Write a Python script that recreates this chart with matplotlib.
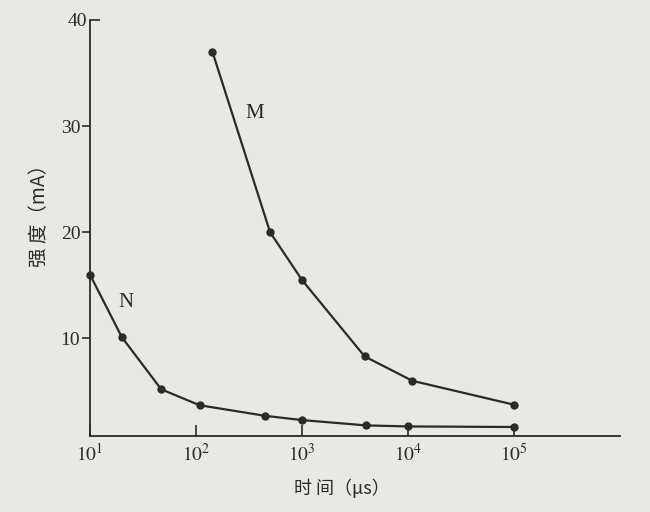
import matplotlib
matplotlib.use("Agg")
import matplotlib.pyplot as plt
from matplotlib.ticker import FixedLocator, FixedFormatter

# ── data ────────────────────────────────────────────────────────────────────
n_time = [10, 20, 47, 108, 450, 1000, 4000, 10000, 100000]   # µs
n_amp  = [16.0, 10.1, 5.2, 3.7, 2.7, 2.3, 1.8, 1.7, 1.65]    # mA

m_time = [143, 500, 1000, 3900, 11000, 100000]
m_amp  = [37.0, 20.0, 15.5, 8.3, 6.0, 3.75]

x_ticks  = [1e2, 1e3, 1e4, 1e5]
x_labels = [r"$10^{2}$", r"$10^{3}$", r"$10^{4}$", r"$10^{5}$"]
y_ticks  = [10, 20, 30]

ink = "#2a2a2a"
paper = "#e8e8e4"

plt.rcParams["font.family"] = ["Liberation Serif", "Noto Sans CJK SC", "DejaVu Sans"]
plt.rcParams["mathtext.fontset"] = "stix"

fig = plt.figure(figsize=(6.5, 5.12), dpi=100, facecolor=paper)
ax = fig.add_axes([90 / 650, 76 / 512, 530 / 650, 416 / 512])
ax.set_facecolor(paper)

ax.plot(n_time, n_amp, "-o", color=ink, lw=1.6, ms=5, clip_on=False)
ax.plot(m_time, m_amp, "-o", color=ink, lw=1.6, ms=5, clip_on=False)

ax.text(355, 31.2, "M", fontsize=15, color=ink, ha="center", va="center")
ax.text(22, 13.4, "N", fontsize=15, color=ink, ha="center", va="center")

ax.set_xscale("log")
ax.set_xlim(10, 1e6)
ax.set_ylim(0.8, 40)

for s in ("top", "right"):
    ax.spines[s].set_visible(False)
for s in ("left", "bottom"):
    ax.spines[s].set_color(ink)
    ax.spines[s].set_linewidth(1.3)

# x: inward ticks at the decades, 10^1 label sits at the corner
ax.xaxis.set_major_locator(FixedLocator([10] + x_ticks))
ax.xaxis.set_major_formatter(FixedFormatter([r"$10^{1}$"] + x_labels))
ax.xaxis.set_minor_locator(FixedLocator([]))
ax.tick_params(axis="x", which="major", direction="in", length=8, width=1.2,
               color=ink, labelcolor=ink, labelsize=14, pad=5)

# y: outward ticks, the top one points inward
ax.yaxis.set_major_locator(FixedLocator(y_ticks))
ax.yaxis.set_minor_locator(FixedLocator([40]))
ax.yaxis.set_minor_formatter(FixedFormatter(["40"]))
ax.tick_params(axis="y", which="major", direction="out", length=6, width=1.2,
               color=ink, labelcolor=ink, labelsize=14, pad=1)
ax.tick_params(axis="y", which="minor", direction="in", length=7, width=1.2,
               color=ink, labelcolor=ink, labelsize=14, pad=2)

ax.set_xlabel("时 间（μs）", fontsize=13, color=ink,
              family=["Noto Sans CJK SC", "DejaVu Sans"])
ax.xaxis.set_label_coords(0.475, -0.102)
ax.set_ylabel("强 度（mA）", fontsize=14, color=ink,
              family=["Noto Sans CJK SC", "DejaVu Sans"])
ax.yaxis.set_label_coords(-0.075, 0.54)

fig.savefig("out.png", dpi=100, facecolor=paper)
